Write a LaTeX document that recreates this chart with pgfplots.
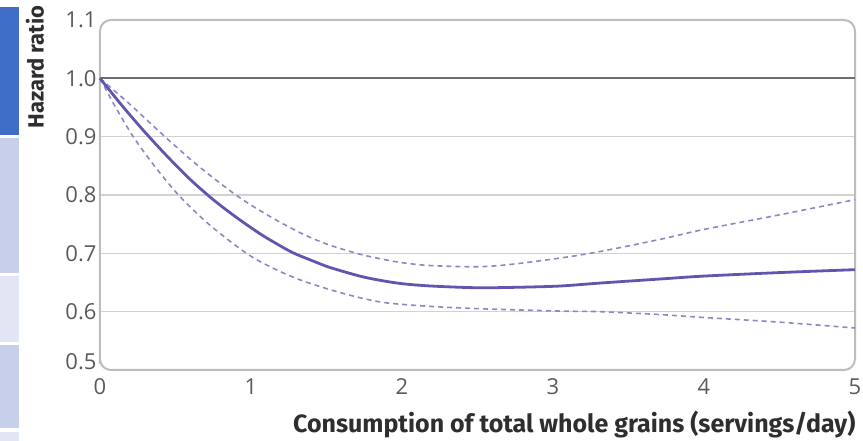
\documentclass[border=0pt]{standalone}
\usepackage{pgfplots}
\pgfplotsset{compat=1.18}
\usepackage{fontspec}
\setmainfont{Fira Sans}
\newfontfamily\tickfont{Open Sans}
\definecolor{curve}{HTML}{5F57AE}
\definecolor{band}{HTML}{8C88C4}
\definecolor{gridc}{HTML}{D2D2D2}
\definecolor{boxc}{HTML}{BDBDBD}
\definecolor{refl}{HTML}{6E6E6E}
\definecolor{ticklab}{HTML}{5A5A5A}
\definecolor{labc}{HTML}{2E2E2E}
\definecolor{stripA}{HTML}{3F6EC6}
\definecolor{stripB}{HTML}{C8CFEA}
\definecolor{stripC}{HTML}{E2E5F3}
\begin{document}
\begin{tikzpicture}
\begin{axis}[
  scale only axis,
  width=755pt, height=350pt,
  xmin=0, xmax=5, ymin=0.5, ymax=1.1,
  axis lines=box,
  axis line style={draw=boxc, line width=2pt, rounded corners=11pt},
  xtick={0,1,2,3,4,5},
  ytick={0.6,0.7,0.8,0.9},
  extra y ticks={1.0,1.1},
  extra y tick labels={1.0,1.1},
  extra y tick style={grid=none, tick style={draw=none}},
  yticklabel style={/pgf/number format/.cd, fixed, fixed zerofill, precision=1},
  xtick style={draw=none},
  ytick style={draw=none},
  extra x ticks={1,2,3,4},
  extra x tick labels={},
  extra x tick style={tick style={draw=boxc, line width=1.2pt}, major tick length=7pt, tick align=inside, xtick pos=bottom, grid=none},
  ymajorgrids,
  grid style={gridc, line width=1.3pt},
  /pgf/number format/assume math mode=true,
  ticklabel style={font=\tickfont\fontsize{22}{26}\selectfont, text=ticklab},
  xticklabel style={yshift=-5pt},
  clip=false,
]
\addplot[refl, line width=1.8pt] coordinates {(0,1.0) (5,1.0)};
\addplot[band, line width=1.6pt, dash pattern=on 5pt off 4pt, smooth] coordinates {
(0,1.0) (0.2,0.955) (0.43,0.9) (0.65,0.85) (0.9,0.8) (1.1,0.767) (1.32,0.736) (1.5,0.716) (1.7,0.7) (1.85,0.691) (2.0,0.684) (2.19,0.679) (2.5,0.677) (2.72,0.681) (3.05,0.692) (3.31,0.703) (3.71,0.724) (4.0,0.741) (4.5,0.766) (5,0.792)};
\addplot[band, line width=1.6pt, dash pattern=on 5pt off 4pt, smooth] coordinates {
(0,1.0) (0.1,0.952) (0.22,0.9) (0.36,0.85) (0.52,0.8) (0.72,0.75) (0.97,0.7) (1.15,0.674) (1.32,0.655) (1.52,0.638) (1.72,0.624) (1.9,0.615) (2.19,0.609) (2.52,0.605) (3.05,0.601) (3.31,0.6) (3.71,0.595) (4.0,0.59) (4.5,0.582) (5,0.572)};
\addplot[curve, line width=2.8pt, smooth] coordinates {
(0,1.0) (0.15,0.952) (0.3,0.907) (0.45,0.865) (0.6,0.826) (0.75,0.792) (0.88,0.766) (1.0,0.744) (1.1,0.727) (1.27,0.702) (1.4,0.688) (1.52,0.676) (1.72,0.661) (1.85,0.654) (2.0,0.648) (2.19,0.644) (2.5,0.641) (2.8,0.642) (3.05,0.644) (3.31,0.649) (3.71,0.656) (4.0,0.661) (4.5,0.667) (5,0.672)};
\end{axis}
\node[anchor=east, font=\tickfont\fontsize{22}{26}\selectfont, text=ticklab, inner sep=0.3333em] at (0pt,8pt) {0.5};
% left strip (part of the cropped figure)
\fill[stripA] (-100pt,235pt) rectangle (-81pt,363pt);
\fill[stripB] (-100pt,97pt) rectangle (-81pt,232pt);
\fill[stripC] (-100pt,28pt) rectangle (-81pt,94pt);
\fill[stripB] (-100pt,-58pt) rectangle (-81pt,25pt);
\fill[stripC] (-100pt,-71pt) rectangle (-81pt,-62pt);
\node[rotate=90, font=\bfseries\fontsize{22}{26}\selectfont, text=labc] at (-65pt,303pt) {Hazard ratio};
\node[anchor=east, font=\bfseries\fontsize{25}{28}\selectfont, text=labc] at (759pt,-55pt) {Consumption of total whole grains (servings/day)};
\pgfresetboundingbox
\path[use as bounding box] (-100pt,-71pt) rectangle (763pt,370pt);
\end{tikzpicture}
\end{document}
